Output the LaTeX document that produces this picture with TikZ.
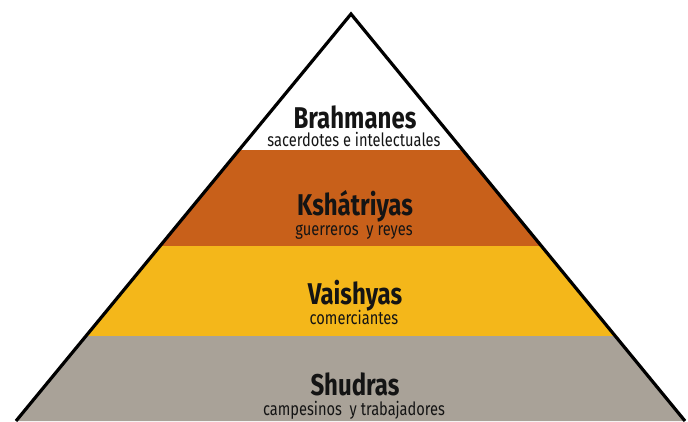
\documentclass[tikz,border=0pt]{standalone}
\usepackage{fontspec}
\newfontfamily\headfont{Fira Sans}[FakeStretch=0.8]
\newfontfamily\subfont{Fira Sans}[FakeStretch=0.8]
\definecolor{bandorange}{HTML}{C8601A}
\definecolor{bandyellow}{HTML}{F4B71A}
\definecolor{bandgray}{HTML}{A9A298}
\definecolor{inkdark}{HTML}{141414}
\begin{document}
\begin{tikzpicture}[x=1pt,y=-1pt,
  title/.style={anchor=base,inner sep=0pt,text=inkdark,font=\headfont\bfseries\fontsize{30}{30}\selectfont},
  subtitle/.style={anchor=base,inner sep=0pt,text=inkdark,font=\subfont\fontsize{18.3}{18.3}\selectfont}]
\useasboundingbox (0,0) rectangle (688,421);
\fill[white] (0,0) rectangle (688,421);
\coordinate (apex) at (351,14);
\coordinate (bl) at (16,421);
\coordinate (br) at (685,421);
\begin{scope}
  \clip (apex) -- (bl) -- (br) -- cycle;
  \fill[white] (0,0) rectangle (688,150);
  \fill[bandorange] (0,150) rectangle (688,246);
  \fill[bandyellow] (0,246) rectangle (688,336);
  \fill[bandgray] (0,336) rectangle (688,430);
\end{scope}
\draw[line width=3.2pt,line join=miter] (bl) -- (apex) -- (br);
\node[title] (t1) at (355,128) {Brahmanes};
\node[subtitle] (s1) at (354,146) {sacerdotes e intelectuales};
\node[title] (t2) at (355,215) {Kshátriyas};
\node[subtitle] (s2) at (354,235) {guerreros \ y reyes};
\node[title] (t3) at (355,304) {Vaishyas};
\node[subtitle] (s3) at (354,324) {comerciantes};
\node[title] (t4) at (355,395) {Shudras};
\node[subtitle] (s4) at (354,415) {campesinos \ y trabajadores};
\end{tikzpicture}
\end{document}
